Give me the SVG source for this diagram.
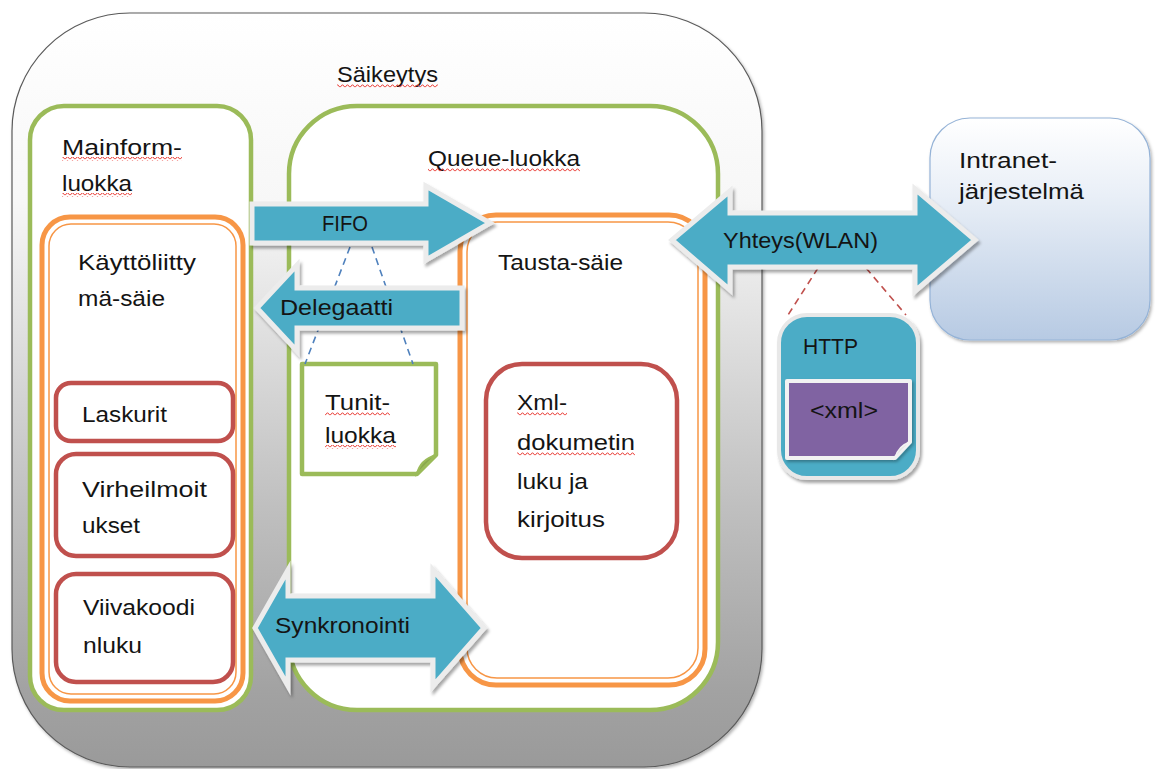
<svg xmlns="http://www.w3.org/2000/svg" width="1155" height="769" viewBox="0 0 1155 769">
<defs>
<linearGradient id="gOuter" x1="0" y1="0" x2="0" y2="1">
<stop offset="0" stop-color="#ffffff"/>
<stop offset="0.25" stop-color="#f7f7f7"/>
<stop offset="0.42" stop-color="#e0e0e0"/>
<stop offset="0.65" stop-color="#c0c0c0"/>
<stop offset="0.9" stop-color="#a2a2a2"/>
<stop offset="1" stop-color="#9a9a9a"/>
</linearGradient>
<linearGradient id="gIntra" x1="0" y1="0" x2="0" y2="1">
<stop offset="0" stop-color="#ffffff"/>
<stop offset="0.35" stop-color="#e9eff7"/>
<stop offset="1" stop-color="#b7cae3"/>
</linearGradient>
<filter id="sh" x="-10%" y="-10%" width="130%" height="130%">
<feDropShadow dx="2" dy="3" stdDeviation="1.5" flood-color="#000" flood-opacity="0.35"/>
</filter>
<filter id="shs" x="-5%" y="-5%" width="115%" height="115%">
<feDropShadow dx="1.5" dy="2" stdDeviation="1.5" flood-color="#000" flood-opacity="0.3"/>
</filter>
<pattern id="wave" x="0" y="0" width="5" height="4" patternUnits="userSpaceOnUse">
<path d="M0,3.3 L2.5,0.7 L5,3.3" fill="none" stroke="#e8312a" stroke-width="1"/>
</pattern>
<style>
text{font-family:"Liberation Sans",Arial,sans-serif;font-size:21.5px;fill:#141414;}
.green{fill:#fff;stroke:#9bbb59;stroke-width:4.5;}
.orO{fill:#fff;stroke:#f79646;stroke-width:5;}
.orI{fill:none;stroke:#f79646;stroke-width:1.5;}
.red{fill:#fff;stroke:#c0504d;stroke-width:4.5;}
.arrow{fill:#4bacc6;stroke:#ececec;stroke-width:5;stroke-linejoin:miter;filter:url(#sh);}
.dashB{stroke:#4f81bd;stroke-width:1.6;stroke-dasharray:7 5;fill:none;}
.dashR{stroke:#c0504d;stroke-width:1.6;stroke-dasharray:7 5;fill:none;}
.wv{fill:url(#wave);}
</style>
</defs>

<g id="saikeytys">
<rect x="12" y="13" width="750" height="754" rx="118" ry="118" fill="url(#gOuter)" stroke="#5a5a5a" stroke-width="1.2" filter="url(#shs)"/>
<text x="337" y="82" textLength="101" lengthAdjust="spacingAndGlyphs">Säikeytys</text>
<rect class="wv" x="337" y="84" width="101" height="4"/>
</g>

<g id="intranet">
<rect x="930" y="118" width="220" height="222" rx="40" ry="40" fill="url(#gIntra)" stroke="#95b3d7" stroke-width="1.2" filter="url(#shs)"/>
<text x="959" y="168" textLength="98" lengthAdjust="spacingAndGlyphs">Intranet-</text>
<text x="959" y="199" textLength="125" lengthAdjust="spacingAndGlyphs">järjestelmä</text>
</g>

<g id="mainform">
<rect class="green" x="30" y="106" width="221" height="604" rx="34" ry="34"/>
<text x="62" y="155" textLength="120" lengthAdjust="spacingAndGlyphs">Mainform-</text>
<rect class="wv" x="62" y="157" width="120" height="4"/>
<text x="62" y="191" textLength="70" lengthAdjust="spacingAndGlyphs">luokka</text>
<rect class="wv" x="62" y="193" width="70" height="4"/>
</g>

<g id="kayttoliittyma">
<rect class="orO" x="42" y="217" width="201" height="484" rx="28" ry="28"/>
<rect class="orI" x="49" y="224" width="187" height="470" rx="22" ry="22"/>
<text x="78" y="270" textLength="118" lengthAdjust="spacingAndGlyphs">Käyttöliitty</text>
<text x="78" y="306" textLength="87" lengthAdjust="spacingAndGlyphs">mä-säie</text>
</g>

<g id="laskurit">
<rect class="red" x="56" y="383" width="177" height="58" rx="15" ry="15"/>
<text x="82" y="422" textLength="85" lengthAdjust="spacingAndGlyphs">Laskurit</text>
</g>

<g id="virheilmoitukset">
<rect class="red" x="56" y="454" width="177" height="102" rx="20" ry="20"/>
<text x="82" y="497" textLength="125" lengthAdjust="spacingAndGlyphs">Virheilmoit</text>
<text x="82" y="533" textLength="58" lengthAdjust="spacingAndGlyphs">ukset</text>
</g>

<g id="viivakoodinluku">
<rect class="red" x="56" y="574" width="177" height="108" rx="20" ry="20"/>
<text x="83" y="615" textLength="112" lengthAdjust="spacingAndGlyphs">Viivakoodi</text>
<text x="83" y="653" textLength="59" lengthAdjust="spacingAndGlyphs">nluku</text>
</g>

<g id="queue">
<rect class="green" x="289" y="106" width="429" height="604" rx="68" ry="68"/>
<text x="428" y="166" textLength="152" lengthAdjust="spacingAndGlyphs">Queue-luokka</text>
<rect class="wv" x="428" y="168" width="152" height="4"/>
</g>

<g id="tausta">
<rect class="orO" x="460" y="215" width="245" height="470" rx="36" ry="36"/>
<rect class="orI" x="467" y="222" width="231" height="456" rx="30" ry="30"/>
<text x="498" y="270" textLength="125" lengthAdjust="spacingAndGlyphs">Tausta-säie</text>
</g>

<g id="xml-dokumentti">
<rect class="red" x="486" y="364" width="191" height="194" rx="36" ry="36"/>
<text x="517" y="410" textLength="50" lengthAdjust="spacingAndGlyphs">Xml-</text>
<rect class="wv" x="517" y="412" width="50" height="4"/>
<text x="517" y="450" textLength="118" lengthAdjust="spacingAndGlyphs">dokumetin</text>
<rect class="wv" x="517" y="452" width="118" height="4"/>
<text x="517" y="489" textLength="71" lengthAdjust="spacingAndGlyphs">luku ja</text>
<text x="517" y="527" textLength="88" lengthAdjust="spacingAndGlyphs">kirjoitus</text>
</g>

<g id="tunit">
<path d="M302,364 H436 V455 L417,474 H302 Z" fill="#fff" stroke="#9bbb59" stroke-width="4.5" stroke-linejoin="round"/>
<path d="M417,474 Q420,460 436,455 Z" fill="#8aa84e" stroke="#9bbb59" stroke-width="2"/>
<text x="325" y="410" textLength="65" lengthAdjust="spacingAndGlyphs">Tunit-</text>
<rect class="wv" x="325" y="412" width="65" height="4"/>
<text x="325" y="443" textLength="71" lengthAdjust="spacingAndGlyphs">luokka</text>
<rect class="wv" x="325" y="445" width="71" height="4"/>
</g>

<g id="http">
<rect x="779" y="315" width="139" height="163" rx="28" ry="28" fill="#4bacc6" stroke="#e8e8e8" stroke-width="4" filter="url(#sh)"/>
<text x="803" y="354" textLength="55" lengthAdjust="spacingAndGlyphs">HTTP</text>
</g>

<g id="xml">
<path d="M787,381 H910 V442 L895,458 H787 Z" fill="#8064a2" stroke="#f2f2f2" stroke-width="4" stroke-linejoin="round" filter="url(#shs)"/>
<path d="M895,458 Q898,446 910,442 Z" fill="#e6e6e6" stroke="#f2f2f2" stroke-width="1.5"/>
<text x="810" y="418" textLength="68" lengthAdjust="spacingAndGlyphs">&lt;xml&gt;</text>
</g>

<g id="connectors">
<line class="dashB" x1="350" y1="247" x2="305" y2="364"/>
<line class="dashB" x1="372" y1="247" x2="413" y2="364"/>
<line class="dashR" x1="818" y1="268" x2="788" y2="315"/>
<line class="dashR" x1="866" y1="268" x2="906" y2="315"/>

<g id="fifo">
<path class="arrow" d="M252,204 H426 V186 L490,223 L426,260 V243 H252 Z"/>
<text x="322" y="231" textLength="46" lengthAdjust="spacingAndGlyphs">FIFO</text>
</g>
<g id="delegaatti">
<path class="arrow" d="M462,288 H297 V265 L257,308 L297,351 V328 H462 Z"/>
<text x="280" y="315" textLength="113" lengthAdjust="spacingAndGlyphs">Delegaatti</text>
</g>
<g id="synkronointi">
<path class="arrow" d="M255,628 L288,570 V596 H433 V570 L484,628 L433,686 V660 H288 V686 Z"/>
<text x="275" y="633" textLength="135" lengthAdjust="spacingAndGlyphs">Synkronointi</text>
</g>
<g id="yhteys">
<path class="arrow" d="M672,240 L730,191 V213 H915 V189 L975,240 L915,291 V267 H730 V290 Z"/>
<text x="723" y="248" textLength="155" lengthAdjust="spacingAndGlyphs">Yhteys(WLAN)</text>
</g>
</g>
</svg>
